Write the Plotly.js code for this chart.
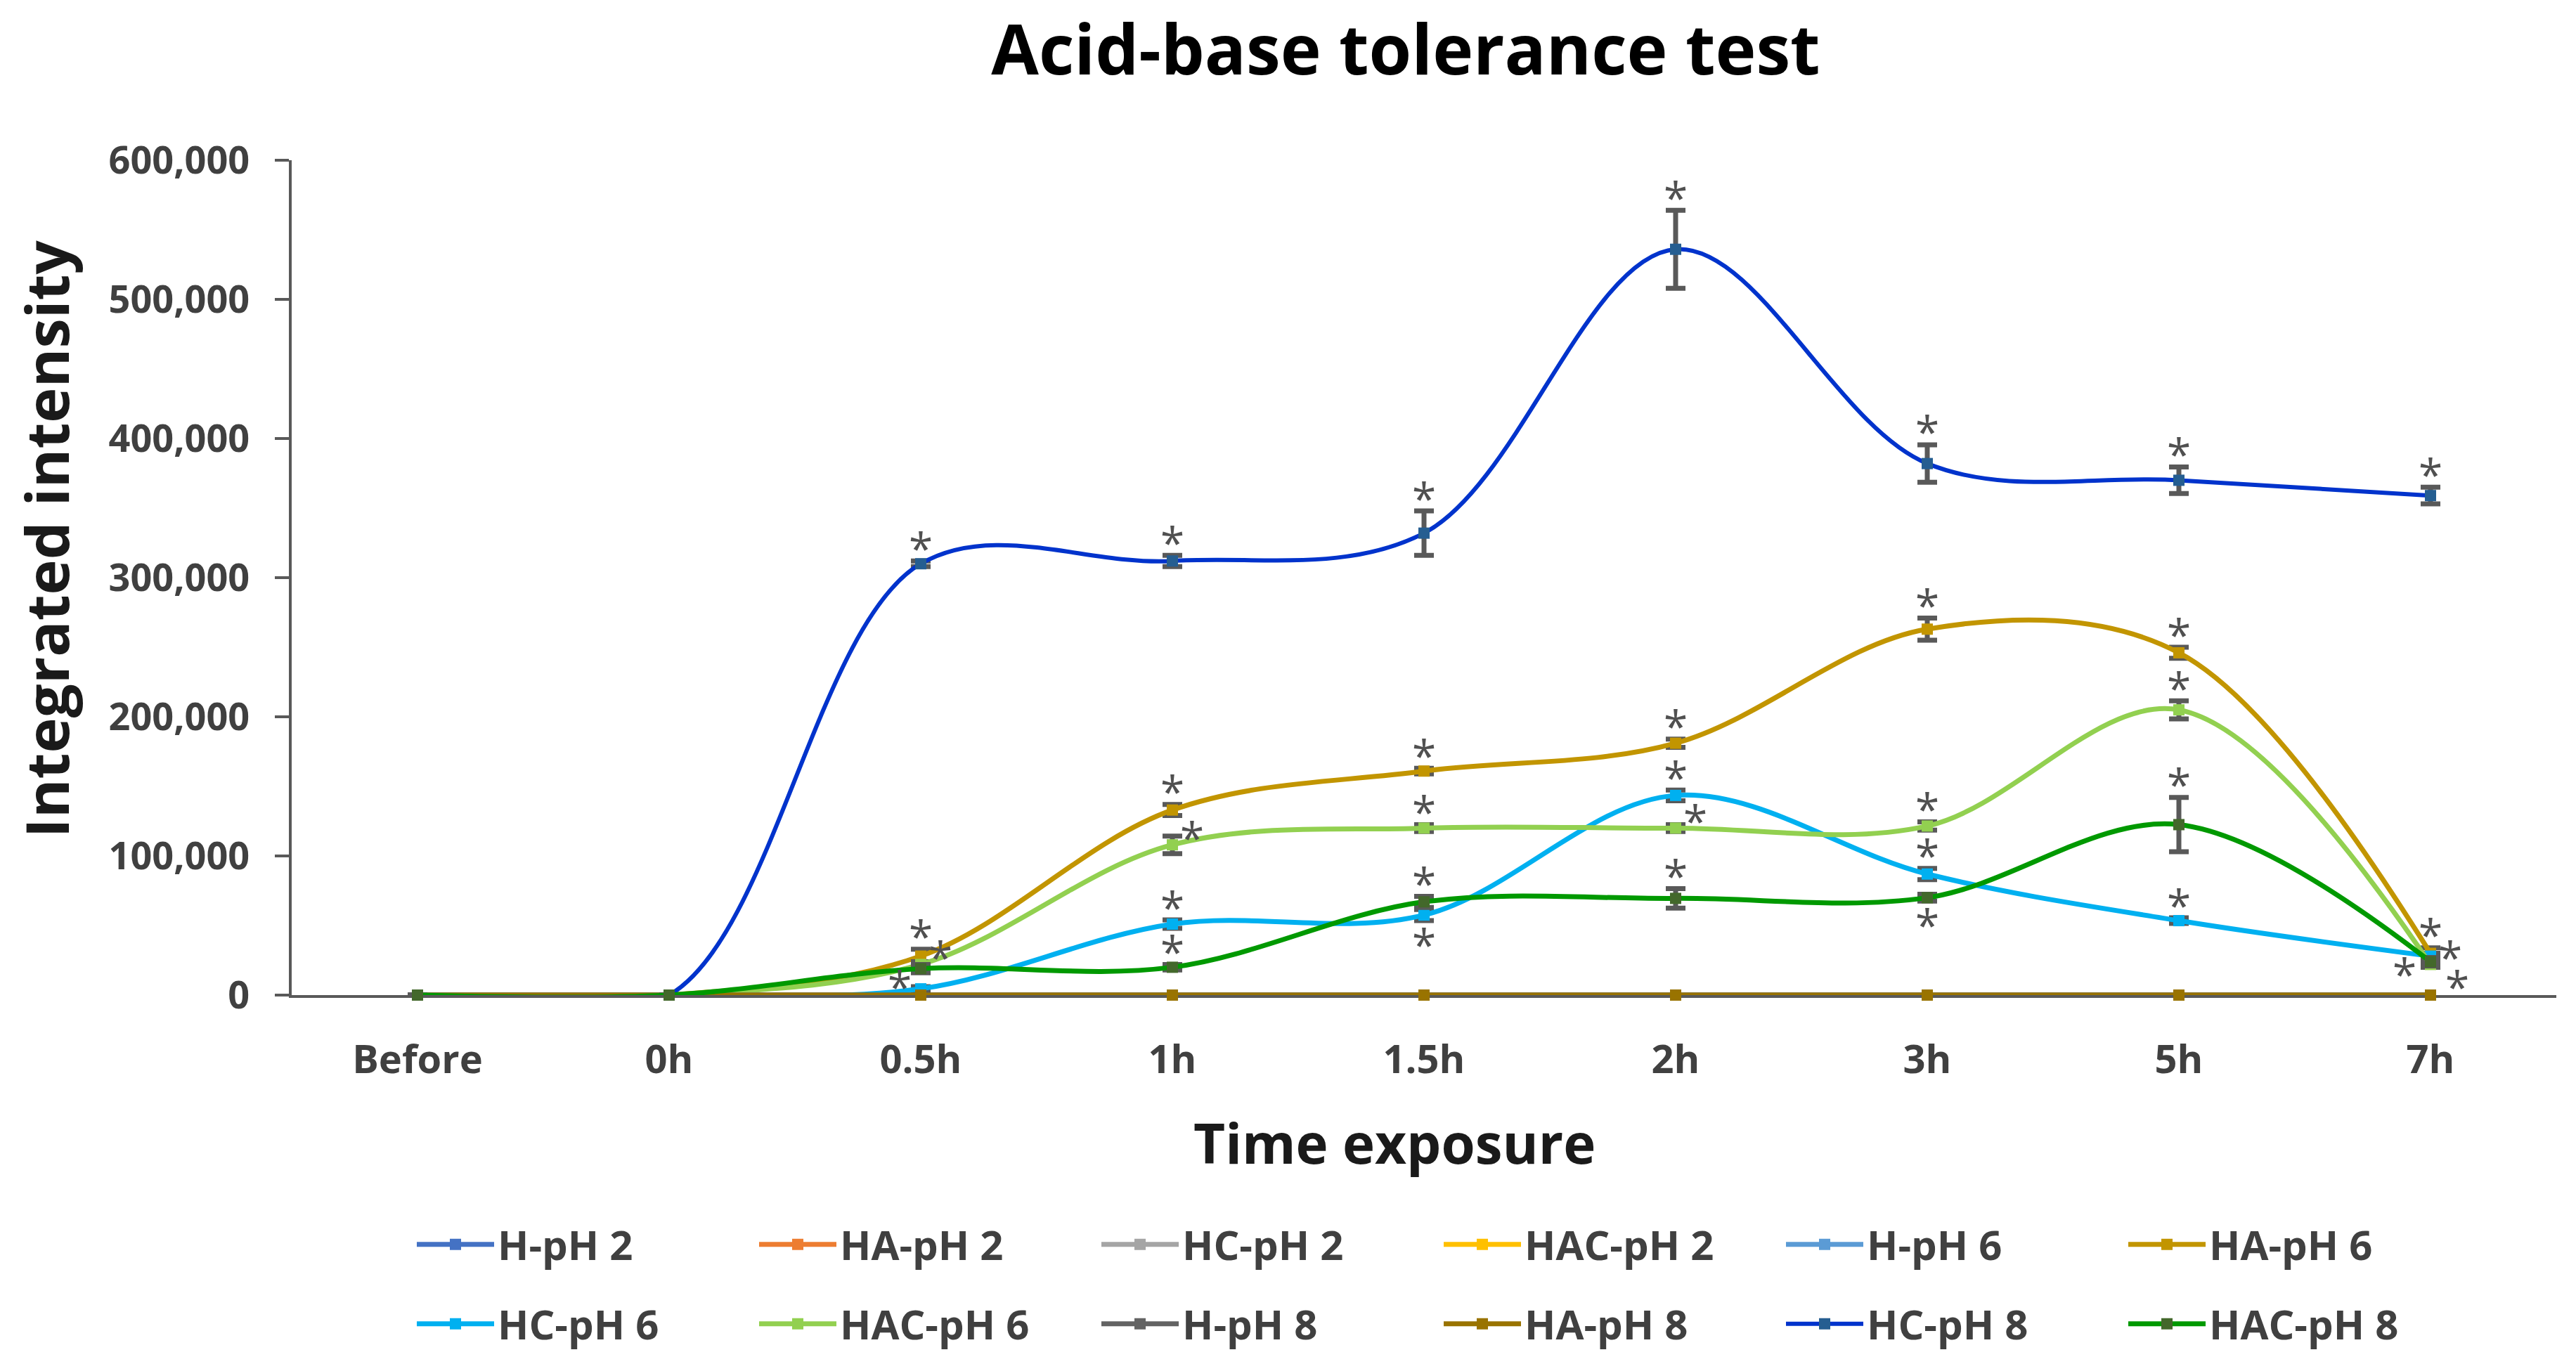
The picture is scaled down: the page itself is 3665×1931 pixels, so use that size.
<!DOCTYPE html>
<html><head><meta charset="utf-8">
<script src="https://cdn.plot.ly/plotly-3.0.1.min.js"></script>
<style>html,body{margin:0;padding:0;background:#fff}</style>
</head><body><div id="chart" style="width:3665px;height:1931px"></div>
<script>
// ---------------- data ----------------
const categories = ['Before','0h','0.5h','1h','1.5h','2h','3h','5h','7h'];
const seriesNames = ['H-pH 2','HA-pH 2','HC-pH 2','HAC-pH 2','H-pH 6','HA-pH 6',
                     'HC-pH 6','HAC-pH 6','H-pH 8','HA-pH 8','HC-pH 8','HAC-pH 8'];

const H_pH2   = [0,0,0,0,0,0,0,0,0];
const HA_pH2  = [0,0,0,0,0,0,0,0,0];
const HC_pH2  = [0,0,0,0,0,0,0,0,0];
const HAC_pH2 = [0,0,0,0,0,0,0,0,0];
const H_pH6   = [0,0,0,0,0,0,0,0,0];
const HA_pH6  = [0,0,28000,133000,161000,181000,263000,246000,30000];
const HC_pH6  = [0,0,4500,51000,57500,143500,87000,53500,28000];
const HAC_pH6 = [0,0,22000,108000,120000,120000,121500,205000,22000];
const H_pH8   = [0,0,0,0,0,0,0,0,0];
const HA_pH8  = [0,0,0,0,0,0,0,0,0];
const HC_pH8  = [0,0,310000,312000,332000,536000,382000,370000,359000];
const HAC_pH8 = [0,0,19000,20000,67000,69500,70000,122500,24000];

// standard errors
const HA_pH6_err  = [0,0,5000,4000,2000,3000,8000,4000,4000];
const HC_pH6_err  = [0,0,1500,3000,4000,3800,4000,2000,2000];
const HAC_pH6_err = [0,0,2000,6300,2500,2500,3000,6500,2000];
const HC_pH8_err  = [0,0,2000,4000,16000,28000,13500,9500,6000];
const HAC_pH8_err = [0,0,3000,2000,4000,7000,2500,19500,3000];

const yTickVals = [0,100000,200000,300000,400000,500000,600000];

// significance markers (placement code per point; '' = none)
const sigHC_pH8  = ['','','t','t','t','t','t','t','t'];
const sigHA_pH6  = ['','','t','t','t','t','t','t','t'];
const sigHAC_pH6 = ['','','r','r','t','r','t','t','r'];
const sigHC_pH6  = ['','','l','t','b','t','t','t','lb'];
const sigHAC_pH8 = ['','','','t','t','t','b','t','rb'];

// ---------------- styles ----------------
const values = [H_pH2,HA_pH2,HC_pH2,HAC_pH2,H_pH6,HA_pH6,HC_pH6,HAC_pH6,H_pH8,HA_pH8,HC_pH8,HAC_pH8];
const errors = [null,null,null,null,null,HA_pH6_err,HC_pH6_err,HAC_pH6_err,null,null,HC_pH8_err,HAC_pH8_err];
const lineColors = ['#4472C4','#ED7D31','#A5A5A5','#FFC000','#5B9BD5','#C29500',
                    '#00B0F0','#92D050','#636363','#997300','#0033CC','#009900'];
const markerColors = ['#4472C4','#ED7D31','#A5A5A5','#FFC000','#5B9BD5','#C29500',
                      '#00B0F0','#92D050','#636363','#997300','#255E91','#43682B'];
const lineWidths = [7,7,7,7,7,7,7,7,7,7,6,7];

const FONT = 'Open Sans, Noto Sans, sans-serif';
const TXT = '#404040';

const traces = values.map((v, i) => {
  const t = {
    type: 'scatter', mode: 'lines+markers',
    name: seriesNames[i], x: categories, y: v,
    line: {color: lineColors[i], width: lineWidths[i], shape: 'spline', smoothing: 1},
    marker: {symbol: 'square', size: 16, color: markerColors[i]},
    cliponaxis: false,
    legend: i < 6 ? 'legend' : 'legend2',
    hoverinfo: 'x+y+name'
  };
  if (errors[i]) {
    t.error_y = {type: 'data', array: errors[i], visible: true,
                 color: '#595959', thickness: 7, width: 14};
  }
  return t;
});

// asterisk annotations
const STAR_SIZE = 62;
const glyphAdj = 0.17 * STAR_SIZE;
const offsets = {t:[0,-30], b:[0,22], r:[28,-22], l:[-30,-15], lb:[-37,14], rb:[38,24]};
const sigSets = [
  [HC_pH8, HC_pH8_err, sigHC_pH8],
  [HA_pH6, HA_pH6_err, sigHA_pH6],
  [HAC_pH6, HAC_pH6_err, sigHAC_pH6],
  [HC_pH6, HC_pH6_err, sigHC_pH6],
  [HAC_pH8, HAC_pH8_err, sigHAC_pH8]
];
const annotations = [];
sigSets.forEach(([v, e, s]) => {
  s.forEach((code, k) => {
    if (!code) return;
    const off = offsets[code];
    let ya = v[k];
    if (code === 't') ya = v[k] + e[k];
    if (code === 'b') ya = v[k] - e[k];
    annotations.push({
      x: categories[k], y: ya, xref: 'x', yref: 'y',
      text: '*', showarrow: false,
      xanchor: 'center', yanchor: 'middle',
      xshift: off[0], yshift: -off[1] - glyphAdj,
      font: {family: FONT, size: STAR_SIZE, color: '#505050'}
    });
  });
});

// axis titles (placed as in the reference)
annotations.push({
  text: 'Integrated intensity', xref: 'paper', yref: 'paper',
  x: -0.1086, y: 0.546, xanchor: 'center', yanchor: 'middle',
  textangle: -90, showarrow: false,
  font: {family: FONT, size: 85, color: '#1a1a1a', weight: 700}
});
annotations.push({
  text: 'Time exposure', xref: 'paper', yref: 'paper',
  x: 0.487, y: -0.177, xanchor: 'center', yanchor: 'middle',
  showarrow: false,
  font: {family: FONT, size: 78, color: '#1a1a1a', weight: 700}
});

const legendCommon = {
  orientation: 'h', xref: 'container', yref: 'container',
  xanchor: 'left', yanchor: 'middle',
  font: {family: FONT, size: 58, color: TXT, weight: 700},
  itemwidth: 110, entrywidth: 362, entrywidthmode: 'pixels',
  bgcolor: 'rgba(0,0,0,0)', borderwidth: 0, traceorder: 'normal'
};

const layout = {
  width: 3665, height: 1931,
  margin: {l: 415, r: 28, t: 228, b: 515, pad: 0},
  paper_bgcolor: '#ffffff', plot_bgcolor: '#ffffff',
  showlegend: true,
  title: {
    text: 'Acid-base tolerance test',
    font: {family: FONT, size: 98, color: '#000000', weight: 700},
    xref: 'container', x: 0.5457, xanchor: 'center',
    yref: 'container', y: 0.963, yanchor: 'middle'
  },
  xaxis: {
    type: 'category', range: [-0.5, 8.5],
    showline: true, linecolor: '#595959', linewidth: 4,
    ticks: '', showgrid: false, zeroline: false, layer: 'below traces',
    tickfont: {family: FONT, size: 56, color: TXT, weight: 700},
    ticklabelstandoff: 40
  },
  yaxis: {
    range: [0, 600000], tickvals: yTickVals, tickformat: ',',
    showline: true, linecolor: '#595959', linewidth: 4,
    ticks: 'outside', ticklen: 20, tickwidth: 4, tickcolor: '#595959',
    showgrid: false, zeroline: false, layer: 'below traces',
    tickfont: {family: FONT, size: 54, color: TXT, weight: 700},
    ticklabelstandoff: 25
  },
  legend: Object.assign({}, legendCommon, {x: 588/3665, y: 1 - 1771/1931}),
  legend2: Object.assign({}, legendCommon, {x: 588/3665, y: 1 - 1884/1931}),
  annotations: annotations
};

Plotly.newPlot('chart', traces, layout, {displayModeBar: false, responsive: false});
</script>
</body></html>
